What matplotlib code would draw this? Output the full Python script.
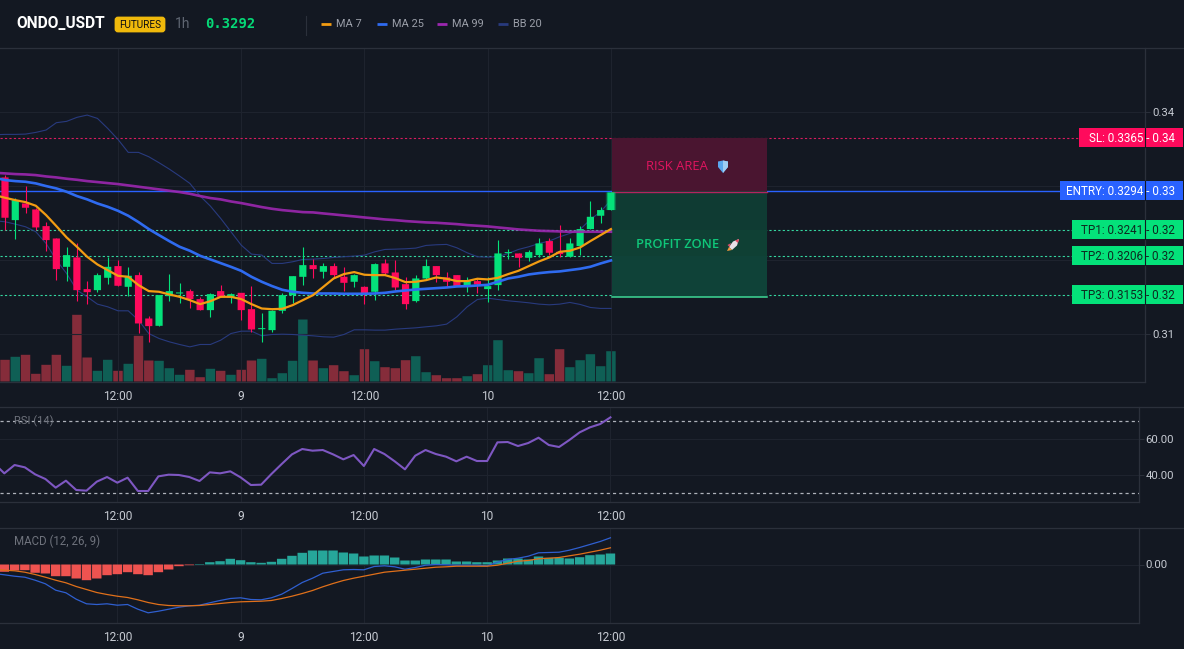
import numpy as np
import matplotlib
matplotlib.use('Agg')
import matplotlib.pyplot as plt
from matplotlib.patches import Rectangle, FancyBboxPatch, Polygon

W, H = 1184, 649
BG = '#131822'
GRID = '#1e232e'
BORDER = '#2b303b'
UP = '#04e27a'
DOWN = '#ff0a5c'
VOL_UP = '#0f5f55'
VOL_DOWN = '#852c3a'
TICK_TEXT = '#c6cad2'
plt.rcParams['font.family'] = ['Roboto', 'DejaVu Sans']

# hourly candles
opens = [0.33117, 0.32540, 0.32765, 0.32684, 0.32459, 0.32292, 0.31909, 0.32036, 0.31608, 0.31594,
         0.31761, 0.31919, 0.31639, 0.31797, 0.31211, 0.31112, 0.31513, 0.31549, 0.31581, 0.31473,
         0.31324, 0.31581, 0.31495, 0.31558, 0.31337, 0.31067, 0.31054, 0.31315, 0.31527, 0.31774,
         0.31932, 0.31842, 0.31919, 0.31775, 0.31707, 0.31639, 0.31572, 0.31955, 0.31833, 0.31675,
         0.31446, 0.31752, 0.31919, 0.31766, 0.31797, 0.31648, 0.31716, 0.31608, 0.31662, 0.32094,
         0.32090, 0.32031, 0.32067, 0.32257, 0.32112, 0.32045, 0.32189, 0.32419, 0.32599, 0.32676]
closes = [0.32572, 0.32810, 0.32707, 0.32441, 0.32270, 0.31878, 0.32067, 0.31594, 0.31567, 0.31797,
          0.31909, 0.31653, 0.31788, 0.31144, 0.31108, 0.31527, 0.31581, 0.31563, 0.31473, 0.31324,
          0.31540, 0.31504, 0.31540, 0.31324, 0.31063, 0.31081, 0.31315, 0.31527, 0.31783, 0.31932,
          0.31878, 0.31919, 0.31797, 0.31693, 0.31797, 0.31549, 0.31946, 0.31820, 0.31630, 0.31405,
          0.31752, 0.31919, 0.31797, 0.31707, 0.31648, 0.31729, 0.31671, 0.31648, 0.32090, 0.32108,
          0.32031, 0.32108, 0.32225, 0.32099, 0.32081, 0.32225, 0.32419, 0.32585, 0.32676, 0.32914]
highs = [0.33148, 0.32833, 0.33000, 0.32698, 0.32518, 0.32292, 0.32180, 0.32225, 0.31716, 0.31819,
         0.32036, 0.32000, 0.31900, 0.31842, 0.31243, 0.31527, 0.31810, 0.31693, 0.31608, 0.31504,
         0.31549, 0.31662, 0.31549, 0.31558, 0.31649, 0.31279, 0.31324, 0.31558, 0.31783, 0.32180,
         0.32013, 0.31955, 0.31955, 0.31910, 0.31806, 0.31648, 0.31955, 0.32013, 0.32000, 0.31766,
         0.31797, 0.32013, 0.31919, 0.31842, 0.31797, 0.31766, 0.31752, 0.31766, 0.32270, 0.32148,
         0.32099, 0.32135, 0.32293, 0.32293, 0.32473, 0.32293, 0.32459, 0.32797, 0.32721, 0.32914]
lows = [0.32405, 0.32279, 0.32630, 0.32405, 0.32126, 0.31729, 0.31716, 0.31450, 0.31405, 0.31572,
        0.31675, 0.31649, 0.31518, 0.31018, 0.30896, 0.31112, 0.31450, 0.31423, 0.31355, 0.31324,
        0.31234, 0.31504, 0.31423, 0.31189, 0.31022, 0.30896, 0.31031, 0.31279, 0.31423, 0.31662,
        0.31761, 0.31761, 0.31752, 0.31581, 0.31639, 0.31405, 0.31459, 0.31797, 0.31594, 0.31333,
        0.31437, 0.31739, 0.31707, 0.31639, 0.31648, 0.31572, 0.31558, 0.31437, 0.31594, 0.32013,
        0.31901, 0.31986, 0.32045, 0.32067, 0.32036, 0.32036, 0.32067, 0.32419, 0.32504, 0.32676]
volumes = [21.7, 24.7, 26.7, 7.7, 16.7, 26.7, 15.7, 66.7, 24.0, 10.7,
           21.7, 10.7, 17.7, 45.7, 21.0, 20.7, 13.3, 6.7, 11.7, 4.3,
           12.7, 10.7, 6.7, 11.7, 21.0, 22.7, 3.3, 8.3, 20.7, 62.0,
           21.0, 13.3, 16.3, 10.3, 6.3, 32.3, 20.3, 14.3, 13.3, 21.3,
           25.3, 9.3, 6.3, 3.3, 3.3, 5.3, 7.3, 16.3, 41.3, 11.3,
           10.3, 8.3, 23.3, 7.3, 32.3, 14.3, 21.3, 27.3, 15.3, 30.3]

# the overlays start one bar before the first visible candle
ma7 = [0.32878, 0.32842, 0.32810, 0.32783, 0.32734, 0.32608, 0.32459, 0.32306, 0.32180, 0.32045, 0.31941,
       0.31864, 0.31788, 0.31774, 0.31662, 0.31581, 0.31572, 0.31536, 0.31504, 0.31459, 0.31405,
       0.31445, 0.31504, 0.31504, 0.31473, 0.31405, 0.31346, 0.31337, 0.31342, 0.31391, 0.31459,
       0.31527, 0.31639, 0.31752, 0.31811, 0.31838, 0.31802, 0.31797, 0.31797, 0.31757, 0.31702,
       0.31707, 0.31729, 0.31766, 0.31748, 0.31716, 0.31716, 0.31748, 0.31739, 0.31761, 0.31811,
       0.31856, 0.31919, 0.31982, 0.32036, 0.32112, 0.32126, 0.32171, 0.32257, 0.32338, 0.32419]
ma25 = [0.33112, 0.33081, 0.33067, 0.33058, 0.33036, 0.33000, 0.32968, 0.32923, 0.32865, 0.32820, 0.32765,
        0.32720, 0.32666, 0.32599, 0.32513, 0.32419, 0.32337, 0.32256, 0.32180, 0.32126, 0.32058,
        0.32009, 0.31959, 0.31909, 0.31855, 0.31774, 0.31707, 0.31649, 0.31599, 0.31572, 0.31558,
        0.31549, 0.31549, 0.31549, 0.31545, 0.31545, 0.31545, 0.31549, 0.31558, 0.31576, 0.31590,
        0.31603, 0.31612, 0.31621, 0.31630, 0.31644, 0.31648, 0.31657, 0.31666, 0.31707, 0.31752,
        0.31775, 0.31806, 0.31824, 0.31838, 0.31847, 0.31865, 0.31883, 0.31910, 0.31955, 0.31995]
ma99 = [0.33180, 0.33171, 0.33162, 0.33157, 0.33148, 0.33130, 0.33117, 0.33099, 0.33085, 0.33067, 0.33054,
        0.33040, 0.33027, 0.33009, 0.32991, 0.32973, 0.32955, 0.32937, 0.32919, 0.32896, 0.32865,
        0.32838, 0.32820, 0.32792, 0.32770, 0.32743, 0.32716, 0.32693, 0.32675, 0.32662, 0.32648,
        0.32644, 0.32630, 0.32617, 0.32603, 0.32590, 0.32576, 0.32563, 0.32549, 0.32540, 0.32527,
        0.32518, 0.32509, 0.32504, 0.32495, 0.32486, 0.32473, 0.32464, 0.32455, 0.32441, 0.32428,
        0.32414, 0.32405, 0.32396, 0.32392, 0.32387, 0.32383, 0.32383, 0.32383, 0.32383, 0.32383]
bb_upper = [0.33693, 0.33698, 0.33698, 0.33702, 0.33725, 0.33757, 0.33856, 0.33874, 0.33928, 0.33959, 0.33914,
            0.33779, 0.33630, 0.33455, 0.33455, 0.33396, 0.33315, 0.33229, 0.33135, 0.33036, 0.32865,
            0.32729, 0.32563, 0.32383, 0.32202, 0.32081, 0.32067, 0.31955, 0.31955, 0.31977, 0.32009,
            0.32013, 0.32022, 0.32036, 0.32045, 0.32054, 0.32067, 0.32112, 0.32144, 0.32148, 0.32153,
            0.32162, 0.32198, 0.32207, 0.32212, 0.32166, 0.32099, 0.32045, 0.32040, 0.32045, 0.32090,
            0.32144, 0.32180, 0.32225, 0.32257, 0.32315, 0.32360, 0.32414, 0.32549, 0.32653, 0.32811]
bb_lower = [0.32531, 0.32518, 0.32486, 0.32450, 0.32383, 0.32225, 0.32000, 0.31819, 0.31594, 0.31504, 0.31405,
            0.31369, 0.31315, 0.31315, 0.31189, 0.31008, 0.30941, 0.30896, 0.30860, 0.30828, 0.30860,
            0.30860, 0.30918, 0.31008, 0.31040, 0.31040, 0.30977, 0.30995, 0.30999, 0.30995, 0.30986,
            0.30977, 0.30964, 0.30959, 0.30995, 0.31058, 0.31058, 0.31054, 0.31054, 0.31067, 0.31076,
            0.31085, 0.31099, 0.31112, 0.31135, 0.31234, 0.31369, 0.31468, 0.31486, 0.31468, 0.31450,
            0.31437, 0.31423, 0.31405, 0.31396, 0.31405, 0.31428, 0.31401, 0.31360, 0.31347, 0.31347]

rsi = [46.5, 40.93, 45.56, 44.26, 40.37, 37.78, 32.97, 36.85, 31.67, 31.30, 36.30,
       38.89, 35.74, 38.52, 31.11, 31.11, 39.26, 40.19, 40.00, 38.89, 36.67,
       41.48, 40.93, 42.04, 38.70, 34.45, 34.63, 40.56, 46.11, 51.48, 54.45,
       53.52, 53.89, 51.48, 48.70, 51.11, 45.00, 54.45, 51.67, 47.60, 43.15,
       50.74, 53.89, 51.67, 50.19, 47.60, 50.19, 47.78, 47.78, 58.15, 58.33,
       56.11, 57.78, 60.74, 56.67, 55.56, 59.44, 63.70, 66.48, 68.33, 72.04]

# macd pane values, scaled by 1e4
macd_hist = [-7.3, -6.0, -5.7, -8.3, -9.0, -11.7, -11.7, -14.0, -15.7, -14.0,
             -10.7, -9.7, -7.7, -9.7, -10.7, -7.7, -5.0, -1.7, -0.7, 0.5,
             2.3, 3.3, 5.7, 4.3, 2.3, 1.7, 2.7, 5.7, 8.7, 11.7,
             14.0, 14.0, 14.0, 12.0, 11.0, 8.0, 9.0, 9.0, 7.0, 4.0,
             4.0, 5.0, 5.0, 5.0, 3.0, 3.0, 2.3, 2.3, 4.0, 6.0,
             6.0, 5.0, 8.0, 6.7, 6.7, 6.0, 7.3, 9.3, 10.0, 11.0]
macd_line = [-9.0, -10.3, -11.7, -12.7, -15.7, -19.3, -25.7, -28.3, -34.7, -39.3, -40.0,
             -39.3, -40.7, -40.0, -44.7, -48.3, -46.7, -44.7, -42.7, -41.3, -40.7,
             -38.3, -36.0, -34.0, -33.3, -35.0, -35.3, -33.3, -29.7, -24.0, -18.0,
             -13.7, -8.7, -7.0, -5.3, -5.0, -5.3, -2.0, -1.3, -2.3, -4.7,
             -3.0, -0.7, 0.0, -0.3, -0.7, -0.7, -0.7, -1.3, 2.3, 5.0,
             6.3, 8.3, 11.7, 12.0, 12.3, 14.3, 17.0, 20.0, 23.0, 26.7]
macd_signal = [-4.7, -5.7, -6.3, -7.7, -10.0, -12.7, -15.7, -18.3, -22.0, -25.0, -28.0,
               -30.0, -31.7, -33.0, -35.3, -38.0, -40.0, -41.0, -41.3, -41.3, -41.0,
               -40.0, -39.0, -38.0, -37.3, -37.0, -36.7, -36.0, -34.0, -31.7, -29.0,
               -26.0, -22.3, -19.0, -16.0, -13.7, -11.7, -9.7, -7.7, -6.7, -5.7,
               -4.7, -3.7, -2.7, -2.3, -1.7, -1.7, -1.7, -1.7, -0.7, 1.3,
               3.3, 4.0, 5.7, 6.3, 7.0, 8.7, 10.3, 12.3, 14.3, 16.7]

time_ticks = [11, 23, 35, 47, 59]
time_labels = ['12:00', '9', '12:00', '10', '12:00']
price_ticks = [0.31, 0.32, 0.33, 0.34]
# 0.32 and 0.33 sit under the level tags
price_tick_labels = ['0.31', '', '', '0.34']

level_names = ['SL', 'ENTRY', 'TP1', 'TP2', 'TP3']
level_values = [0.3365, 0.3294, 0.3241, 0.3206, 0.3153]
level_rounded = ['0.34', '0.33', '0.32', '0.32', '0.32']

legend_names = ['MA 7', 'MA 25', 'MA 99', 'BB 20']
legend_colors = ['#f39c12', '#2f6bf0', '#9c27b0', '#283a7e']

fig = plt.figure(figsize=(W / 100, H / 100), dpi=100, facecolor=BG)


def px_box(x0, y0, x1, y1):
    # axes rectangle from pixel edges, y measured from the top
    return [x0 / W, 1 - y1 / H, (x1 - x0) / W, (y1 - y0) / H]


def style_pane(ax):
    ax.set_facecolor(BG)
    ax.yaxis.tick_right()
    ax.set_xticks(time_ticks)
    ax.set_xticklabels(time_labels)
    ax.grid(True, color=GRID, linewidth=0.8)
    ax.set_axisbelow(True)
    ax.tick_params(axis='x', length=0, pad=6, labelsize=8.6, labelcolor=TICK_TEXT)
    ax.tick_params(axis='y', length=3.5, pad=1.5, width=0.7, color=BORDER, labelsize=8.2, labelcolor=TICK_TEXT)
    for side in ['left', 'top']:
        ax.spines[side].set_visible(False)
    for side in ['right', 'bottom']:
        ax.spines[side].set_color(BORDER)
        ax.spines[side].set_linewidth(0.9)


def soft_bars(bars):
    # no pixel snapping, otherwise the bar widths come out uneven
    for b in bars:
        b.set_snap(False)
        b.set_linewidth(0)


main_pos = px_box(0, 48, 1145, 381.5)
main_xlim = (-0.487, 111.0)
pane_xlim = (-0.419, 110.4)
price_lim = (0.30360, 0.34865)

# volume sits behind the candles, same frame as the price pane
ax_vol = fig.add_axes(main_pos, zorder=1)
ax_vol.set_facecolor(BG)
ax_vol.set_xlim(main_xlim)
ax_vol.set_ylim(0, 333.5)
ax_vol.set_xticks([])
ax_vol.set_yticks([])
for sp in ax_vol.spines.values():
    sp.set_visible(False)

ax = fig.add_axes(main_pos, zorder=2)
style_pane(ax)
ax.patch.set_visible(False)
ax.set_xlim(main_xlim)
ax.set_ylim(price_lim)
ax.set_yticks(price_ticks)
ax.set_yticklabels(price_tick_labels)

x = np.arange(len(opens))
line_x = np.arange(-1, len(opens))
is_up = np.array(closes) >= np.array(opens)
candle_colors = [UP if u else DOWN for u in is_up]
vol_colors = [VOL_UP if u else VOL_DOWN for u in is_up]

soft_bars(ax_vol.bar(x, volumes, width=0.92, color=vol_colors))

# price levels and trade zones
ax.axhline(level_values[0], color='#d81b60', linewidth=0.8, linestyle=(0, (2, 2)), zorder=1)
ax.axhline(level_values[1], color='#2962ff', linewidth=1.0, zorder=1)
for lv in level_values[2:]:
    ax.axhline(lv, color='#35d6a0', linewidth=0.8, linestyle=(0, (2, 2)), zorder=1)

zone_x0, zone_x1 = 59.1, 74.15
ax.add_patch(Rectangle((zone_x0, level_values[1] - 0.0002), zone_x1 - zone_x0, level_values[0] - level_values[1] + 0.0002,
                       facecolor='#4a1530', edgecolor='none', zorder=1.5))
ax.add_patch(Rectangle((zone_x0, level_values[4] - 0.00025), zone_x1 - zone_x0, level_values[1] - level_values[4] + 0.00025,
                       facecolor='#0f3b33', edgecolor='none', zorder=1.5))
ax.add_patch(Rectangle((zone_x0, level_values[3]), zone_x1 - zone_x0, level_values[2] - level_values[3],
                       facecolor='#0f4034', edgecolor='none', zorder=1.6))
ax.add_patch(Rectangle((zone_x0, level_values[4] - 0.00025), zone_x1 - zone_x0, level_values[3] - level_values[4] + 0.00025,
                       facecolor='#0f4238', edgecolor='none', zorder=1.6))
ax.plot([zone_x0, zone_x1], [level_values[1] - 0.0002] * 2, color='#b3245f', linewidth=1.0, zorder=1.7)
ax.plot([zone_x0, zone_x1], [level_values[4] - 0.00025] * 2, color='#3fd896', linewidth=1.1, zorder=1.7)

ax.plot(line_x, bb_upper, color=legend_colors[3], linewidth=0.8, zorder=2)
ax.plot(line_x, bb_lower, color=legend_colors[3], linewidth=0.8, zorder=2)

body_low = np.minimum(opens, closes)
body_high = np.maximum(opens, closes)
soft_bars(ax.bar(x[-1], body_high[-1] - body_low[-1], bottom=body_low[-1], width=1.0, color=UP, alpha=0.3, zorder=2.5))
ax.vlines(x, lows, highs, colors=candle_colors, linewidth=0.8, zorder=3)
soft_bars(ax.bar(x, body_high - body_low, bottom=body_low, width=0.7, color=candle_colors, zorder=3))

ax.plot(line_x, ma99, color=legend_colors[2], linewidth=1.9, alpha=0.9, zorder=4)
ax.plot(line_x, ma25, color=legend_colors[1], linewidth=1.9, zorder=4)
ax.plot(line_x, ma7, color=legend_colors[0], linewidth=1.6, zorder=4)

# RSI pane
ax_rsi = fig.add_axes(px_box(0, 407, 1138.5, 502), zorder=2)
style_pane(ax_rsi)
ax_rsi.set_xlim(pane_xlim)
ax_rsi.set_ylim(25.0, 77.8)
ax_rsi.set_yticks([40, 60])
ax_rsi.set_yticklabels(['40.00', '60.00'])
ax_rsi.axhline(70, color='#aeb2ba', linewidth=0.9, linestyle=(0, (2.5, 2.5)))
ax_rsi.axhline(30, color='#aeb2ba', linewidth=0.9, linestyle=(0, (2.5, 2.5)))
ax_rsi.plot(line_x, rsi, color='#7e57c2', linewidth=1.5)

# MACD pane
ax_macd = fig.add_axes(px_box(0, 528, 1138.5, 623), zorder=2)
style_pane(ax_macd)
ax_macd.set_xlim(pane_xlim)
ax_macd.set_ylim(-58.5, 36.5)
ax_macd.set_yticks([0])
ax_macd.set_yticklabels(['0.00'])
hist_colors = ['#26a69a' if v >= 0 else '#ef5350' for v in macd_hist]
soft_bars(ax_macd.bar(x, macd_hist, width=0.92, color=hist_colors, zorder=2))
ax_macd.plot(line_x, macd_line, color='#2f5fd0', linewidth=0.9, zorder=3)
ax_macd.plot(line_x, macd_signal, color='#e0701a', linewidth=0.9, zorder=3)

# everything in pixel coordinates from here on: header, pane titles, level tags
ov = fig.add_axes([0, 0, 1, 1], zorder=5)
ov.set_xlim(0, W)
ov.set_ylim(H, 0)
ov.axis('off')

for y in [48, 407, 528]:
    ov.plot([0, W], [y, y], color=BORDER, linewidth=0.9)

ov.text(16, 24, 'ONDO_USDT', color='white', fontsize=11.2, fontweight='bold', va='center')
ov.add_patch(FancyBboxPatch((116, 18), 48, 13, boxstyle='round,pad=0,rounding_size=2', linewidth=2,
                            edgecolor='#f0b90b', facecolor='#f0b90b'))
ov.text(140, 24.5, 'FUTURES', color='#111111', fontsize=7.2, ha='center', va='center')
ov.text(175, 24, '1h', color='#5f6672', fontsize=10, va='center')
ov.text(205, 24, '0.3292', color='#05d977', fontsize=10, fontweight='bold', family='DejaVu Sans Mono', va='center')
ov.plot([305.5, 305.5], [16, 35], color=BORDER, linewidth=0.8)

legend_x = [321, 377, 437, 498]
for lx, name, col in zip(legend_x, legend_names, legend_colors):
    ov.plot([lx, lx + 10], [24, 24], color=col, linewidth=2, solid_capstyle='butt')
    ov.text(lx + 15, 24, name, color='#9a9ea8', fontsize=7.9, va='center')

ov.text(14, 421, 'RSI (14)', color='#6e727c', fontsize=8, va='center')
ov.text(14, 541.5, 'MACD (12, 26, 9)', color='#6e727c', fontsize=8.3, va='center')

ov.text(646, 167, 'RISK AREA', color='#e0145f', fontsize=9.4, va='center', family='Open Sans')
ov.text(636, 245, 'PROFIT ZONE', color='#0fc77a', fontsize=9.4, fontweight='semibold', va='center', family='Open Sans')

# small shield and rocket icons next to the zone titles
ov.add_patch(Polygon([(718, 161.5), (723, 160.5), (728, 161.5), (728, 167), (723, 173), (718, 167)], closed=True,
                     facecolor='#5aa7ee', edgecolor='none'))
ov.add_patch(Polygon([(723, 160.5), (728, 161.5), (728, 167), (723, 173)], closed=True, facecolor='#9ecdf5', edgecolor='none'))
ov.add_patch(Polygon([(739, 239), (737, 245.5), (732, 250), (729, 247), (733, 241.5)], closed=True,
                     facecolor='#e8dfe6', edgecolor='none'))
ov.add_patch(Polygon([(739, 239), (738, 243), (735, 240.5)], closed=True, facecolor='#e0455f', edgecolor='none'))
ov.add_patch(Polygon([(729, 247), (727, 251), (732, 250)], closed=True, facecolor='#f29a3e', edgecolor='none'))
ov.add_patch(Polygon([(731, 243), (727.5, 245), (729.5, 247)], closed=True, facecolor='#d9506a', edgecolor='none'))

# level tags, placed from the price scale of the main pane
tag_left = [1079, 1060, 1072, 1072, 1072]
tag_colors = [DOWN, '#2962ff', '#04e27a', '#04e27a', '#04e27a']
tag_text = ['white', 'white', '#0d2a20', '#0d2a20', '#0d2a20']
for name, val, rounded, left, col, tcol in zip(level_names, level_values, level_rounded, tag_left, tag_colors, tag_text):
    py = H - ax.transData.transform((0, val))[1]
    ov.add_patch(Rectangle((left, py - 9.5), W - 1 - left, 19, facecolor=col, edgecolor='none'))
    ov.plot([1144.5, 1144.5], [py - 9.5, py + 9.5], color=BG, linewidth=0.8)
    ov.text(1175, py + 0.5, '%s: %.4f - %s' % (name, val, rounded), color=tcol, fontsize=8.4, ha='right', va='center')

fig.savefig('out.png', dpi=100, facecolor=BG)
